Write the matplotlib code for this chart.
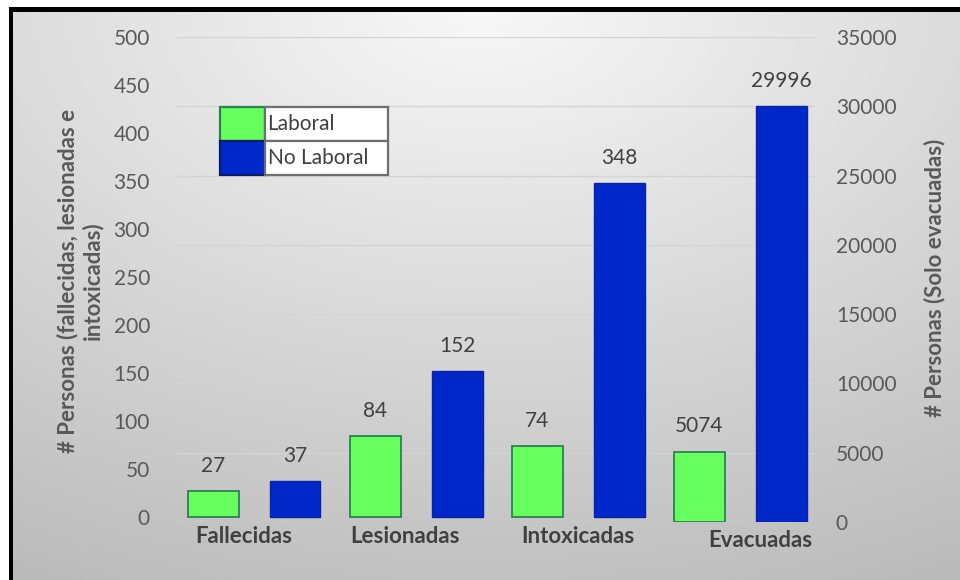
import numpy as np
import matplotlib
matplotlib.use('Agg')
import matplotlib.pyplot as plt
from matplotlib.transforms import ScaledTranslation

# data
categories = ['Fallecidas', 'Lesionadas', 'Intoxicadas', 'Evacuadas']
laboral = [27, 84, 74, 5074]
no_laboral = [37, 152, 348, 29996]
left_ticks = list(range(0, 501, 50))
right_ticks = list(range(0, 35001, 5000))
series_names = ['Laboral', 'No Laboral']

green = '#66ff5e'
green_edge = '#2f7f55'
blue = '#0028c8'
blue_edge = '#0a22a8'
txt = '#404040'
tick_col = '#595959'

plt.rcParams['font.family'] = ['Lato', 'DejaVu Sans']

W, H = 960, 580
fig = plt.figure(figsize=(W / 100, H / 100), dpi=100)

# background: soft radial gray gradient, white margin, black frame top/left
yy, xx = np.mgrid[0:H, 0:W]
r = np.sqrt(((xx / W) - 0.5) ** 2 + ((yy / H) - 0.0) ** 2 * 0.9)
val = np.clip(0.975 - 0.23 * r, 0, 1)
img = np.dstack([val, val, val])
img[:7, :] = 1.0
img[:, :9] = 1.0
img[7:12, 9:] = 0.0
img[7:, 9:13] = 0.0
bg = fig.add_axes([0, 0, 1, 1], zorder=-10)
bg.imshow(img, extent=[0, 1, 0, 1], aspect='auto', interpolation='bilinear')
bg.axis('off')

ax = fig.add_axes([175 / W, 1 - 522 / H, 640 / W, 485 / H])
ax2 = ax.twinx()
ax.set_zorder(ax2.get_zorder() + 1)
ax.patch.set_visible(False)
ax2.patch.set_visible(False)

x = np.arange(len(categories))
off = 0.253
bw = 0.31
n_left = 3  # first three categories use the left axis, Evacuadas the right one

for i in range(len(categories)):
    target = ax if i < n_left else ax2
    b1 = target.bar(x[i] - off, laboral[i], bw, color=green, edgecolor=green_edge,
                    linewidth=1.3, zorder=3)
    b2 = target.bar(x[i] + off, no_laboral[i], bw, color=blue, edgecolor=blue_edge,
                    linewidth=1.0, zorder=3)
    for b, v in ((b1[0], laboral[i]), (b2[0], no_laboral[i])):
        target.annotate(str(v), (b.get_x() + b.get_width() / 2, b.get_height()),
                        xytext=(0, 11), textcoords='offset points',
                        ha='center', va='bottom', fontsize=15, color=txt)

ax.set_xlim(-0.49, 3.46)
ax.set_ylim(-5.2, 500)
ax.set_yticks(left_ticks)
ax2.set_ylim(0, 35000)
ax2.set_yticks(right_ticks)
ax2.set_axisbelow(True)
ax2.grid(axis='y', color='#d4d4d4', linewidth=1.0)

ax.set_xticks(x)
ax.set_xticklabels(categories, fontsize=16, fontweight='bold', color=txt)
ax.tick_params(axis='x', length=0, pad=3)
ax.tick_params(axis='y', length=0, pad=18, labelsize=15, labelcolor=tick_col)
ax2.tick_params(axis='y', length=0, pad=15, labelsize=15, labelcolor=tick_col)
for a in (ax, ax2):
    for s in a.spines.values():
        s.set_visible(False)

# small nudges of the category labels, as in the original layout
label_dx = [-11, -11, -1, 20]
label_dy = [0, 0, 0, -4]
for lab, dx, dy in zip(ax.get_xticklabels(), label_dx, label_dy):
    lab.set_transform(lab.get_transform() + ScaledTranslation(dx / 100, dy / 100, fig.dpi_scale_trans))

fig.text(80 / W, 1 - 281 / H, '# Personas (fallecidas, lesionadas e\nintoxicadas)',
         rotation=90, ha='center', va='center', multialignment='center',
         fontsize=16, fontweight='bold', color=tick_col, linespacing=1.2)
fig.text(935 / W, 1 - 278 / H, '# Personas (Solo evacuadas)',
         rotation=90, ha='center', va='center',
         fontsize=16, fontweight='bold', color=tick_col)

# legend drawn as a small two-row table
tbl = ax.table(cellText=[['', series_names[0]], ['', series_names[1]]],
               cellColours=[[green, 'white'], [blue, 'white']],
               colWidths=[0.27, 0.73], cellLoc='left',
               bbox=[0.07, 0.7155, 0.2625, 0.14], zorder=5)
tbl.auto_set_font_size(False)
tbl.set_fontsize(15)
edges = {(0, 0): green_edge, (1, 0): '#0a1a70', (0, 1): '#6e6e6e', (1, 1): '#6e6e6e'}
for key, ec in edges.items():
    c = tbl[key]
    c.set_edgecolor(ec)
    c.set_linewidth(1.6)
    c.PAD = 0.02
    c.get_text().set_color(txt)

fig.savefig('out.png', dpi=100)
